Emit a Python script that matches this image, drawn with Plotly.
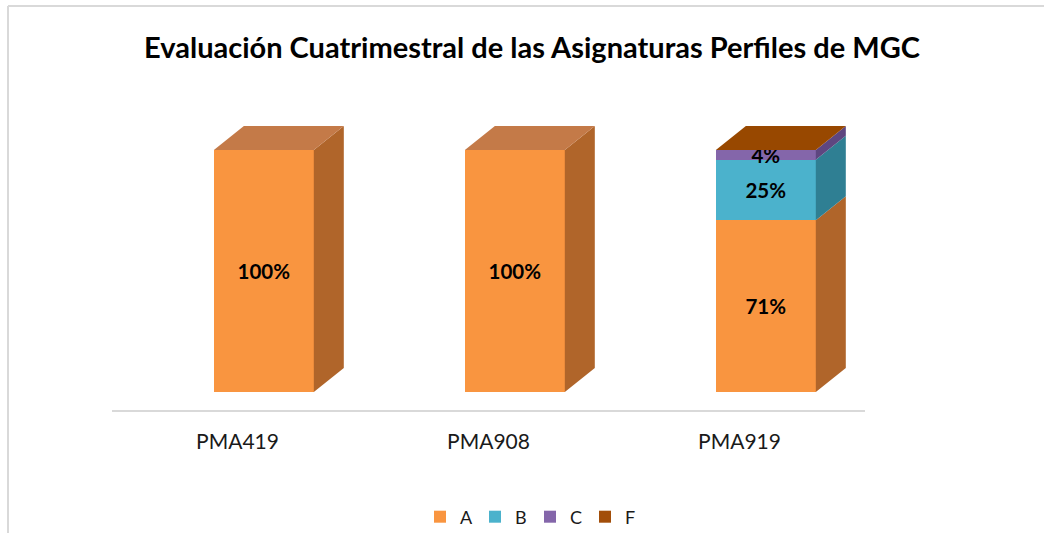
import plotly.graph_objects as go

categories = ["PMA419", "PMA908", "PMA919"]
series_names = ["A", "B", "C", "F"]
vals_A = [100, 100, 71]
vals_B = [None, None, 25]
vals_C = [None, None, 4]
vals_F = [None, None, 0]
series_values = [vals_A, vals_B, vals_C, vals_F]

front_colors = ["#F99540", "#4BB2CC", "#8466AA", "#A24E0A"]
side_colors = ["#B0652A", "#2F7F93", "#5E4680", "#7A3A06"]
top_colors = ["#C47A48", "#3A98AE", "#7058A0", "#984800"]

FONT = "Lato, Open Sans, sans-serif"

# geometry of the pseudo-3D bars (in axis units)
bar_offset = -0.094
bar_width = 0.398
depth_x = 0.1195
depth_y = 9.92

fig = go.Figure()
x_idx = list(range(len(categories)))

# front faces (stacked bars)
for name, vals, col in zip(series_names, series_values, front_colors):
    texts = [f"{v}%" if (v is not None and v > 0) else "" for v in vals]
    fig.add_trace(go.Bar(
        x=x_idx, y=vals, name=name,
        offset=bar_offset, width=bar_width,
        marker=dict(color=col, line=dict(width=0)),
        text=texts, textposition="inside", insidetextanchor="middle",
        constraintext="none",
        textfont=dict(family=FONT, size=20.5, color="black", weight="bold"),
        hoverinfo="skip",
    ))

# side and top faces computed from the data
for i in x_idx:
    base = 0
    last_col = None
    for s, vals in enumerate(series_values):
        v = vals[i]
        if v is None:
            continue
        last_col = s
        top = base + v
        if v > 0:
            xr = i + bar_offset + bar_width
            fig.add_trace(go.Scatter(
                x=[xr, xr + depth_x, xr + depth_x, xr, xr],
                y=[base, base + depth_y, top + depth_y, top, base],
                fill="toself", fillcolor=side_colors[s], mode="lines",
                line=dict(width=0, color=side_colors[s]),
                showlegend=False, hoverinfo="skip",
            ))
        base = top
    xl = i + bar_offset
    xr = xl + bar_width
    fig.add_trace(go.Scatter(
        x=[xl, xl + depth_x, xr + depth_x, xr, xl],
        y=[base, base + depth_y, base + depth_y, base, base],
        fill="toself", fillcolor=top_colors[last_col], mode="lines",
        line=dict(width=0, color=top_colors[last_col]),
        showlegend=False, hoverinfo="skip",
    ))

W, H = 1044, 533
ml, mr, mt, mb = 112, 179, 100, 123
pw, ph = W - ml - mr, H - mt - mb

def px_x(px):
    return (px - ml) / pw

def px_y(py):
    return (H - mb - py) / ph

fig.update_layout(
    width=W, height=H,
    margin=dict(l=ml, r=mr, t=mt, b=mb, autoexpand=False),
    paper_bgcolor="white", plot_bgcolor="white",
    barmode="stack",
    title=dict(text="<b>Evaluación Cuatrimestral de las Asignaturas Perfiles de MGC</b>",
               font=dict(family=FONT, size=29, color="black"),
               x=532 / W, xanchor="center", y=1 - 48 / H, yanchor="middle"),
    xaxis=dict(range=[-0.5, 2.5], tickvals=x_idx, ticktext=categories,
               showline=True, linecolor="#D9D9D9", linewidth=2,
               ticks="outside", ticklen=12, tickcolor="rgba(0,0,0,0)",
               tickfont=dict(family=FONT, size=21, color="#1a1a1a"),
               showgrid=False, zeroline=False, fixedrange=True),
    yaxis=dict(range=[-18 / 2.42, (ph - 18) / 2.42], showgrid=False,
               showticklabels=False, zeroline=False, showline=False, fixedrange=True),
    legend=dict(orientation="h", x=px_x(530), xanchor="center",
                y=px_y(517), yanchor="middle",
                font=dict(family=FONT, size=18, color="#1a1a1a"),
                itemwidth=30, entrywidth=10, entrywidthmode="pixels",
                traceorder="normal"),
    showlegend=True,
    shapes=[
        dict(type="line", xref="paper", yref="paper",
             x0=px_x(8), x1=px_x(8), y0=px_y(6), y1=px_y(H + 2),
             line=dict(color="#D9D9D9", width=2)),
        dict(type="line", xref="paper", yref="paper",
             x0=px_x(8), x1=px_x(W + 2), y0=px_y(6), y1=px_y(6),
             line=dict(color="#D9D9D9", width=2)),
    ],
)

fig.write_html("out.html", config={"displayModeBar": False},
               post_script="document.body.style.margin='0';")
